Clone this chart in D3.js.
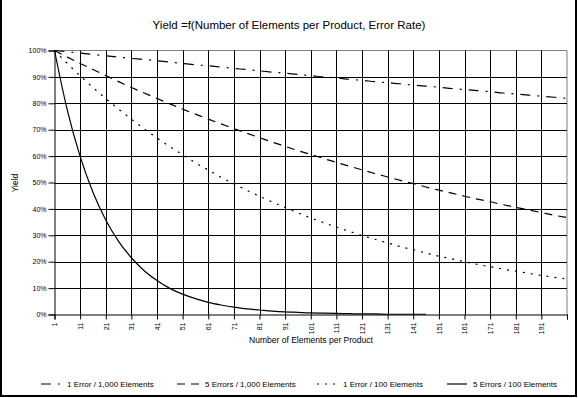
<!DOCTYPE html>
<html>
<head>
  <script src="https://d3js.org/d3.v7.min.js"></script>
  <style>
    body { margin: 0; background: #fff; }
    svg { display: block; font-family: "Liberation Sans", Arial, sans-serif; }
  </style>
</head>
<body>
  <svg width="578" height="398"></svg>
  <script>
    // number of elements per product (sampled every 5)
    var elements = [1, 6, 11, 16, 21, 26, 31, 36, 41, 46, 51, 56, 61, 66, 71, 76, 81, 86, 91, 96,
      101, 106, 111, 116, 121, 126, 131, 136, 141, 146, 151, 156, 161, 166, 171, 176, 181, 186, 191, 196, 201];

    // yields
    var err1per1000 = [1.000, 0.995, 0.990, 0.985, 0.980, 0.975, 0.970, 0.966, 0.961, 0.956, 0.951,
      0.946, 0.942, 0.937, 0.932, 0.928, 0.923, 0.918, 0.914, 0.909, 0.905, 0.900, 0.896, 0.891,
      0.887, 0.882, 0.878, 0.874, 0.869, 0.865, 0.861, 0.856, 0.852, 0.848, 0.844, 0.839, 0.835,
      0.831, 0.827, 0.823, 0.819];
    var err5per1000 = [1.000, 0.975, 0.951, 0.928, 0.905, 0.882, 0.860, 0.839, 0.818, 0.798, 0.778,
      0.759, 0.740, 0.722, 0.704, 0.687, 0.670, 0.653, 0.637, 0.621, 0.606, 0.591, 0.576, 0.562,
      0.548, 0.534, 0.521, 0.508, 0.496, 0.483, 0.471, 0.460, 0.448, 0.437, 0.427, 0.416, 0.406,
      0.396, 0.386, 0.376, 0.367];
    var err1per100 = [1.000, 0.951, 0.904, 0.860, 0.818, 0.778, 0.740, 0.703, 0.669, 0.636, 0.605,
      0.575, 0.547, 0.520, 0.495, 0.471, 0.448, 0.426, 0.405, 0.385, 0.366, 0.348, 0.331, 0.315,
      0.299, 0.285, 0.271, 0.257, 0.245, 0.233, 0.221, 0.211, 0.200, 0.190, 0.181, 0.172, 0.164,
      0.156, 0.148, 0.141, 0.134];
    // this one stops at 146 elements
    var err5per100 = [1.000, 0.774, 0.599, 0.463, 0.358, 0.277, 0.215, 0.166, 0.129, 0.099, 0.077,
      0.060, 0.046, 0.036, 0.028, 0.021, 0.017, 0.013, 0.010, 0.008, 0.006, 0.005, 0.004, 0.003,
      0.002, 0.002, 0.001, 0.001, 0.001, 0.001];

    var xTicks = [1, 11, 21, 31, 41, 51, 61, 71, 81, 91, 101, 111, 121, 131, 141, 151, 161, 171, 181, 191];
    var yTicks = [0, 0.1, 0.2, 0.3, 0.4, 0.5, 0.6, 0.7, 0.8, 0.9, 1.0];

    var seriesNames = ["1 Error / 1,000 Elements", "5 Errors / 1,000 Elements",
      "1 Error / 100 Elements", "5 Errors / 100 Elements"];
    var dashes = ["10,7,2,7", "8,6", "2,6", null];

    var series = [err1per1000, err5per1000, err1per100, err5per100].map(function(vals, i) {
      return {
        name: seriesNames[i],
        dash: dashes[i],
        points: vals.map(function(v, j) { return {x: elements[j], y: v}; })
      };
    });

    var svg = d3.select("svg");
    var pLeft = 54.5, pRight = 567, pTop = 50.5, pBottom = 314.5;

    var x = d3.scaleLinear().domain([1, 201]).range([pLeft, pRight]);
    var y = d3.scaleLinear().domain([0, 1]).range([pBottom, pTop]);

    // outer frame (left, right, bottom)
    svg.append("path")
      .attr("d", "M1,0V396H576V0")
      .attr("fill", "none")
      .attr("stroke", "#000")
      .attr("stroke-width", 2);

    // title
    svg.append("text")
      .attr("x", 289).attr("y", 29)
      .attr("text-anchor", "middle")
      .style("font-size", "11.5px")
      .text("Yield =f(Number of Elements per Product, Error Rate)");

    // plot frame top/right in grey
    svg.append("path")
      .attr("d", "M" + pLeft + "," + pTop + "H" + pRight + "V" + pBottom)
      .attr("fill", "none")
      .attr("stroke", "#808080");

    // grid
    svg.append("g").selectAll("line")
      .data(yTicks.slice(1, -1))
      .enter().append("line")
      .attr("x1", pLeft).attr("x2", pRight)
      .attr("y1", function(d) { return Math.round(y(d)) + 0.5; })
      .attr("y2", function(d) { return Math.round(y(d)) + 0.5; })
      .attr("stroke", "#000");
    svg.append("g").selectAll("line")
      .data(xTicks.slice(1))
      .enter().append("line")
      .attr("x1", function(d) { return Math.round(x(d)) + 0.5; })
      .attr("x2", function(d) { return Math.round(x(d)) + 0.5; })
      .attr("y1", pTop).attr("y2", pBottom)
      .attr("stroke", "#000");

    // axes
    var yAxis = svg.append("g")
      .attr("transform", "translate(" + pLeft + ",0)")
      .call(d3.axisLeft(y).tickValues(yTicks).tickSize(6).tickPadding(2)
        .tickFormat(d3.format(".0%")));
    var xAxis = svg.append("g")
      .attr("transform", "translate(0," + pBottom + ")")
      .call(d3.axisBottom(x).tickValues(xTicks.concat([201])).tickSize(5)
        .tickFormat(function(d) { return d === 201 ? "" : d; }));
    [yAxis, xAxis].forEach(function(g) {
      g.select(".domain").attr("stroke", "#000");
      g.selectAll("line").attr("stroke", "#000");
      g.selectAll("text").style("font-size", "7px").attr("fill", "#000");
    });
    xAxis.selectAll("text")
      .attr("transform", "rotate(-90)")
      .attr("text-anchor", "end")
      .attr("x", -8).attr("y", 0)
      .attr("dy", "0.32em");

    // axis titles
    svg.append("text")
      .attr("x", 311).attr("y", 343)
      .attr("text-anchor", "middle")
      .style("font-size", "8.5px")
      .text("Number of Elements per Product");
    svg.append("text")
      .attr("transform", "translate(18,183) rotate(-90)")
      .attr("text-anchor", "middle")
      .style("font-size", "8.5px")
      .text("Yield");

    // lines
    var line = d3.line()
      .x(function(d) { return x(d.x); })
      .y(function(d) { return y(d.y); })
      .curve(d3.curveMonotoneX);

    svg.append("g").selectAll("path")
      .data(series)
      .enter().append("path")
      .attr("d", function(d) { return line(d.points); })
      .attr("fill", "none")
      .attr("stroke", "#000")
      .attr("stroke-width", 1.2)
      .attr("stroke-dasharray", function(d) { return d.dash; });

    // legend
    var legendX = [41, 177, 317, 447];
    var sampleW = [20, 22, 20, 20];
    var legend = svg.append("g").selectAll("g")
      .data(series)
      .enter().append("g")
      .attr("transform", function(d, i) { return "translate(" + legendX[i] + ",384)"; });
    legend.append("line")
      .attr("x1", 0).attr("x2", function(d, i) { return sampleW[i]; })
      .attr("stroke", "#000")
      .attr("stroke-width", 1.2)
      .attr("stroke-dasharray", function(d) { return d.dash; });
    legend.append("text")
      .attr("x", function(d, i) { return sampleW[i] + 6; })
      .attr("dy", "0.32em")
      .style("font-size", "8px")
      .text(function(d) { return d.name; });
  </script>
</body>
</html>
